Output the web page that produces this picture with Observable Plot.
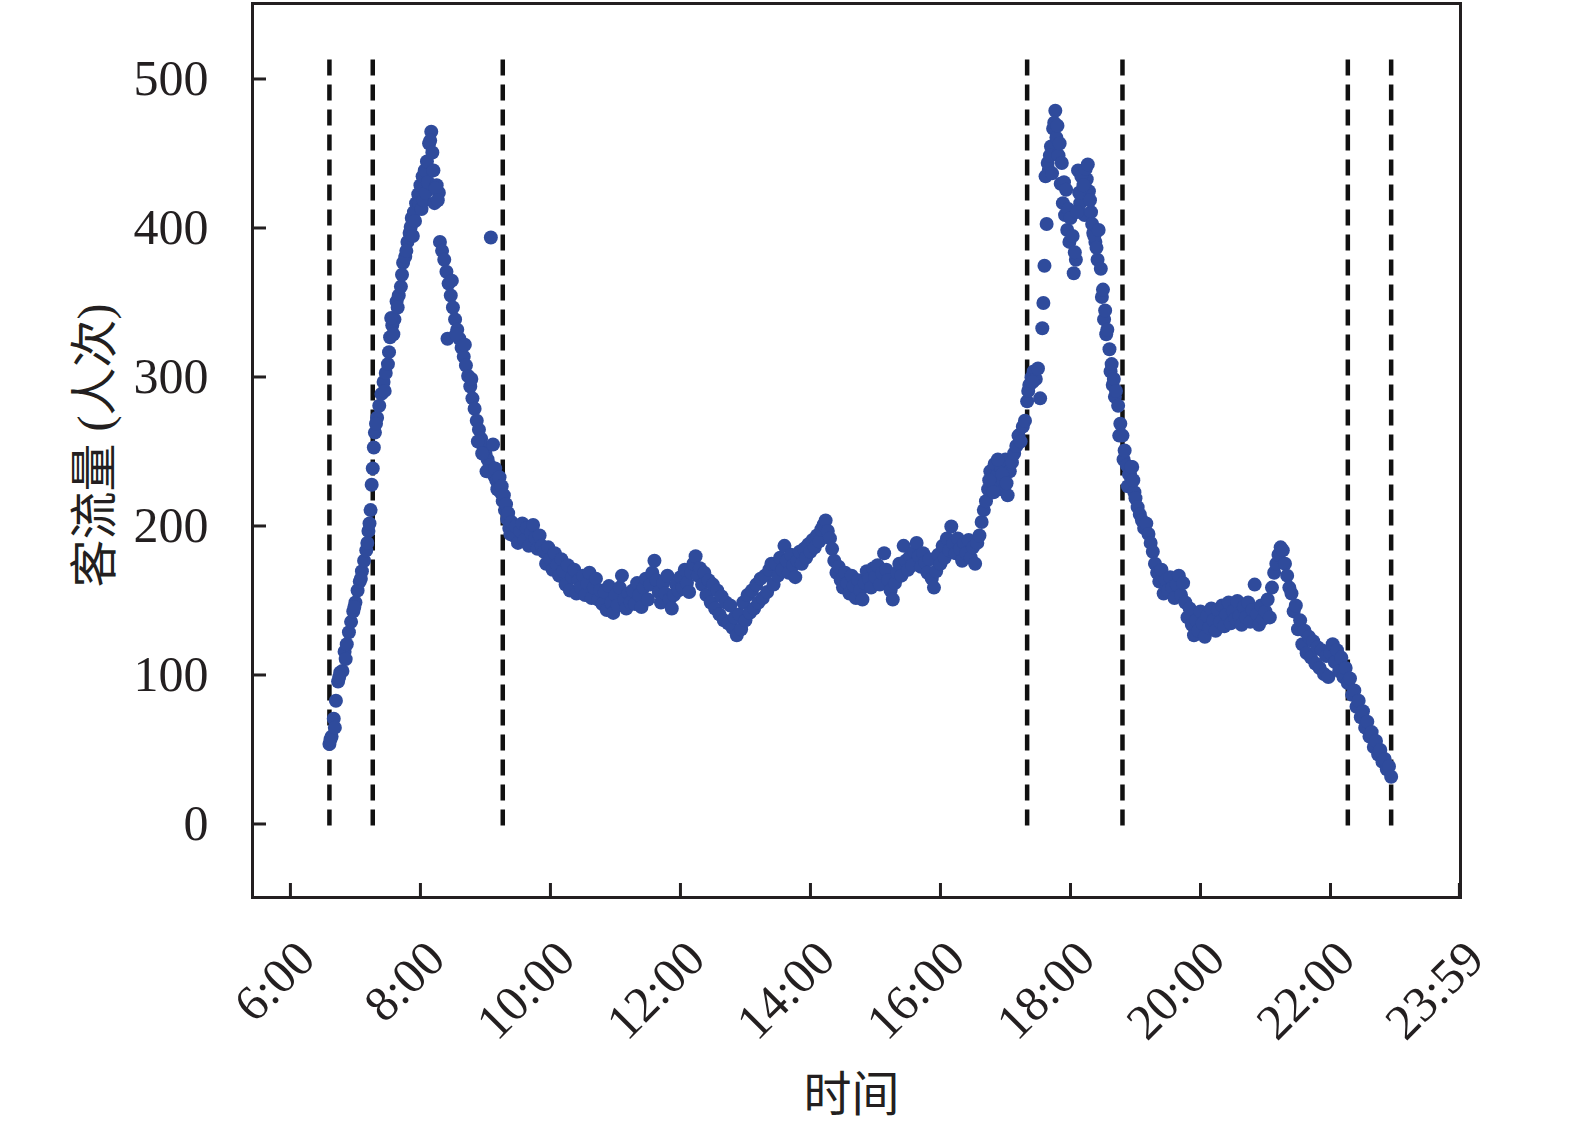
<!DOCTYPE html>
<html><head><meta charset="utf-8">
<script src="https://cdn.jsdelivr.net/npm/d3@7"></script>
<script src="https://cdn.jsdelivr.net/npm/@observablehq/plot@0.6"></script>
<style>html,body{margin:0;padding:0;background:#fff}svg{display:block}</style>
</head><body><div id="chart"></div>
<script>
// [minute of day, passenger count]
const morningRise = [[396,55],[398,60],[400,72],[402,84],[404,97],[406,103],[408,104],[410,117],[412,122],[414,130],[416,137],[418,144],[420,150],[422,158],[424,164],[426,171],[428,178],[430,185],[432,198],[434,212],[436,240],[438,264],[440,274],[442,282],[444,290],[446,298],[448,304],[450,310],[452,328],[454,336],[456,340],[458,352],[460,356],[462,362],[464,378],[466,382],[468,392],[470,398],[472,408],[474,412],[476,418],[478,424],[480,430],[482,436],[484,440],[486,446],[488,458],[490,466]];
const morningExtra = [[397,58],[401,66],[405,100],[411,112],[419,147],[425,166],[431,190],[433,203],[435,229],[437,254],[439,270],[447,292],[451,318],[453,341],[455,330],[459,348],[463,370],[467,386],[471,402],[473,396],[475,406],[479,418],[481,414],[483,420],[485,425],[487,432],[489,460],[491,452],[493,418],[495,430],[497,425]];
const morningFall = [[492,440],[494,428],[496,420],[498,392],[500,386],[502,380],[504,372],[506,364],[508,356],[510,348],[512,340],[514,333],[516,327],[518,321],[520,315],[522,309],[524,302],[526,295],[528,287],[530,280],[532,272],[534,266],[536,260],[538,255],[540,250],[542,246],[544,242],[546,238],[548,235],[550,232],[552,229],[554,224],[556,218],[558,212],[560,206],[562,200]];
const fallExtra = [[505,327],[509,366],[513,330],[521,323],[527,300],[533,258],[537,250],[541,238],[545,395],[547,256],[549,240],[551,226],[553,234],[555,228],[557,222],[559,216],[561,210],[563,196]];
const midday = [[564,204],[566,195],[568,201],[570,190],[572,198],[574,203],[576,192],[578,200],[580,188],[582,197],[584,202],[586,193],[588,186],[590,195],[592,188],
[594,184],[596,176],[598,187],[600,179],[602,172],[604,183],[606,175],[608,168],[610,179],
[612,171],[614,162],[616,175],[618,158],[620,167],[622,172],[624,156],[626,165],[628,160],
[630,168],[632,155],[634,163],[636,170],[638,153],[640,160],[642,166],[644,152],[646,158],
[648,149],[650,157],[652,145],[654,161],[656,150],[658,143],[660,155],[662,148],[664,160],[666,168],[668,152],[670,146],[672,156],[674,150],
[676,158],[678,149],[680,163],[682,155],[684,147],[686,160],[688,166],[690,152],[692,162],[694,170],[696,178],[698,165],[700,157],
[702,150],[704,163],[706,156],[708,168],[710,152],[712,146],[714,155],[716,162],[718,158],[720,167],
[722,160],[724,172],[726,163],[728,157],[730,170],[732,176],[734,181],[736,168],[738,173],
[740,162],[742,170],[744,155],[746,165],[748,150],[750,162],[752,146],[754,158],[756,142],[758,154],[760,138],[762,150],[764,136],[766,148],[768,133],[770,140],[772,128],
[774,142],[776,132],[778,150],[780,138],[782,155],[784,143],[786,158],[788,146],[790,162],[792,150],[794,166],[796,153],[798,168],[800,157],[802,172],[804,176],[806,162],
[808,176],[810,168],[812,180],[814,172],[816,188],[818,178],[820,170],[822,182],[824,175],[826,167],[828,178],[830,184],[832,176],
[834,186],[836,180],[838,189],[840,184],[842,192],[844,187],[846,195],[848,191],[850,199],[852,202],[854,205],
[856,198],[858,193],[860,186],[862,178],[864,170],
[866,174],[868,165],[870,160],[872,170],[874,163],[876,156],[878,168],[880,161],[882,153],[884,165],[886,158],[888,152],[890,163],[892,171],
[894,166],[896,160],[898,173],[900,167],[902,175],[904,162],[906,170],[908,183],[910,172],[912,165],[914,158],[916,152],[918,163],[920,170],[922,176],[924,168],
[926,188],[928,178],[930,172],[932,181],[934,175],[936,184],[938,190],[940,181],[942,174],[944,183],[946,177],[948,170],[950,179],[952,166],[954,160],[956,171],
[958,182],[960,176],[962,188],[964,180],[966,193],[968,185],[970,201],[972,190],[974,183],[976,193],[978,186],[980,178],[982,190],[984,183],[986,192],[988,180],[990,187],[992,176],[994,190],[996,195]];
const eveningRise = [[998,204],[1000,212],[1002,218],[1004,226],[1006,238],[1008,230],[1010,243],[1012,235],[1014,226],[1016,240],[1018,232],[1020,246],[1022,222],[1024,238],[1026,244],[1028,250],[1030,255],[1032,262],[1034,258],[1036,268],[1038,272],[1040,285],[1042,296],[1044,301],[1046,305],[1048,300],[1050,307],[1052,287],[1054,334],[1056,376],[1058,404],[1060,440],[1062,456],[1064,468],[1066,480]];
const eveningExtra = [[1005,232],[1009,224],[1013,246],[1017,236],[1021,230],[1041,292],[1045,298],[1055,351],[1057,436],[1059,445],[1061,450],[1063,438],[1065,472],[1067,462],[1069,450],[1071,431],[1073,418],[1075,410],[1077,400],[1079,392],[1083,371],[1085,380],[1087,440],[1089,418],[1091,426],[1093,410],[1095,434],[1097,426],[1099,412],[1101,398],[1103,392],[1105,380],[1109,355],[1111,340],[1113,330],[1117,305],[1119,296],[1121,288],[1125,262],[1129,246],[1133,228],[1135,236],[1137,241],[1139,224]];
const eveningFall = [[1068,470],[1070,458],[1072,445],[1074,432],[1076,427],[1078,414],[1080,408],[1082,396],[1084,385],[1086,412],[1088,425],[1090,436],[1092,430],[1094,441],[1096,444],[1098,420],[1100,404],[1102,396],[1104,388],[1106,400],[1108,374],[1110,360],[1112,346],[1114,333],[1116,320],[1118,310],[1120,300],[1122,292],[1124,282],[1126,270],[1128,262],[1130,252],[1132,242],[1134,236],[1136,241],[1138,232],[1140,220],[1142,214],[1144,209],[1146,205],[1148,200],[1150,203],[1152,196],[1154,190],[1156,184],[1158,176],[1160,170],[1162,164],[1164,172],[1166,156],[1168,165],[1170,158],[1172,167],[1174,160],[1176,153],[1178,162],[1180,168],[1182,155],[1184,163],[1186,150],[1188,140],[1190,146],[1192,135],[1194,128],[1196,138],[1198,131],[1200,144]];
const night = [[1202,136],[1204,127],[1206,141],[1208,133],[1210,146],[1212,138],[1214,131],[1216,145],[1218,137],[1220,148],[1222,134],[1224,142],[1226,150],[1228,136],[1230,144],[1232,139],[1234,151],[1236,141],[1238,135],[1240,147],[1242,140],[1244,150],[1246,137],[1248,145],[1250,162],[1252,142],[1254,135],[1256,148],[1258,139],[1260,144],[1262,152],[1264,140],[1266,160],[1268,170],[1270,176],[1272,182],[1274,187],[1276,185],[1278,176],[1280,168],[1282,160],
[1284,156],[1286,144],[1288,148],[1290,132],[1292,138],[1294,122],[1296,131],[1298,116],[1300,127],[1302,113],[1304,124],[1306,109],[1308,120],[1310,106],[1312,118],[1314,102],[1316,114],[1318,100],[1320,116],[1322,122],[1324,110],[1326,118],[1328,104],[1330,113],[1332,100],[1334,106],[1336,96],[1338,99],[1340,88],[1342,91],[1344,80],[1346,84],[1348,73],[1350,77],[1352,66],[1354,70],[1356,60],[1358,63],[1360,53],[1362,57],[1364,48],[1366,51],[1368,43],[1370,45],[1372,38],[1374,40],[1376,33]];

const periodBoundaries = [396, 436, 556, 1040, 1128, 1336, 1376];
const xTicks = [360, 480, 600, 720, 840, 960, 1080, 1200, 1320, 1439];
const xTickLabels = ["6:00", "8:00", "10:00", "12:00", "14:00", "16:00", "18:00", "20:00", "22:00", "23:59"];
const yTicks = [0, 100, 200, 300, 400, 500];
const yLabel = "客流量 (人次)";
const xLabel = "时间";

const data = [...morningRise, ...morningExtra, ...morningFall, ...fallExtra, ...midday, ...eveningRise, ...eveningExtra, ...eveningFall, ...night]
  .map(([m, v]) => ({minute: m, count: v}));

const serif = "'Liberation Serif', 'Times New Roman', serif";
const cjk = "'Liberation Serif', 'Noto Sans CJK SC', serif";

const chart = Plot.plot({
  width: 1575, height: 1132,
  marginLeft: 252, marginRight: 115, marginTop: 3, marginBottom: 235,
  x: {domain: [325, 1440]},
  y: {domain: [-48, 552]},
  style: {fontFamily: serif, fontSize: "50px", background: "#fff", color: "#231f20"},
  marks: [
    Plot.ruleX(periodBoundaries, {x: d => d, y1: 0, y2: 515, stroke: "#111", strokeWidth: 4.5, strokeDasharray: "16,9"}),
    Plot.dot(data, {x: "minute", y: "count", r: 7, fill: "#2f4b9c"}),
    Plot.axisY({ticks: yTicks, tickSize: -14, tickPadding: 58, strokeWidth: 3, fontSize: 50, label: null, dy: -2}),
    Plot.axisX({ticks: xTicks, tickSize: -14, tickFormat: () => "", strokeWidth: 3, label: null}),
    Plot.text(xTicks, {x: d => d, frameAnchor: "bottom", text: (d, i) => xTickLabels[i], rotate: -45, textAnchor: "end", lineAnchor: "bottom", dx: 27, dy: 64, fontSize: 50}),
    Plot.text([yLabel], {frameAnchor: "left", textAnchor: "middle", lineAnchor: "middle", dx: -157, dy: -5, rotate: -90, fontSize: 48, fontFamily: cjk}),
    Plot.text([xLabel], {frameAnchor: "bottom", textAnchor: "middle", lineAnchor: "middle", dx: -5, dy: 198, fontSize: 48, fontFamily: cjk}),
    Plot.frame({stroke: "#231f20", strokeWidth: 3})
  ]
});
document.getElementById("chart").appendChild(chart);
</script>
</body></html>
